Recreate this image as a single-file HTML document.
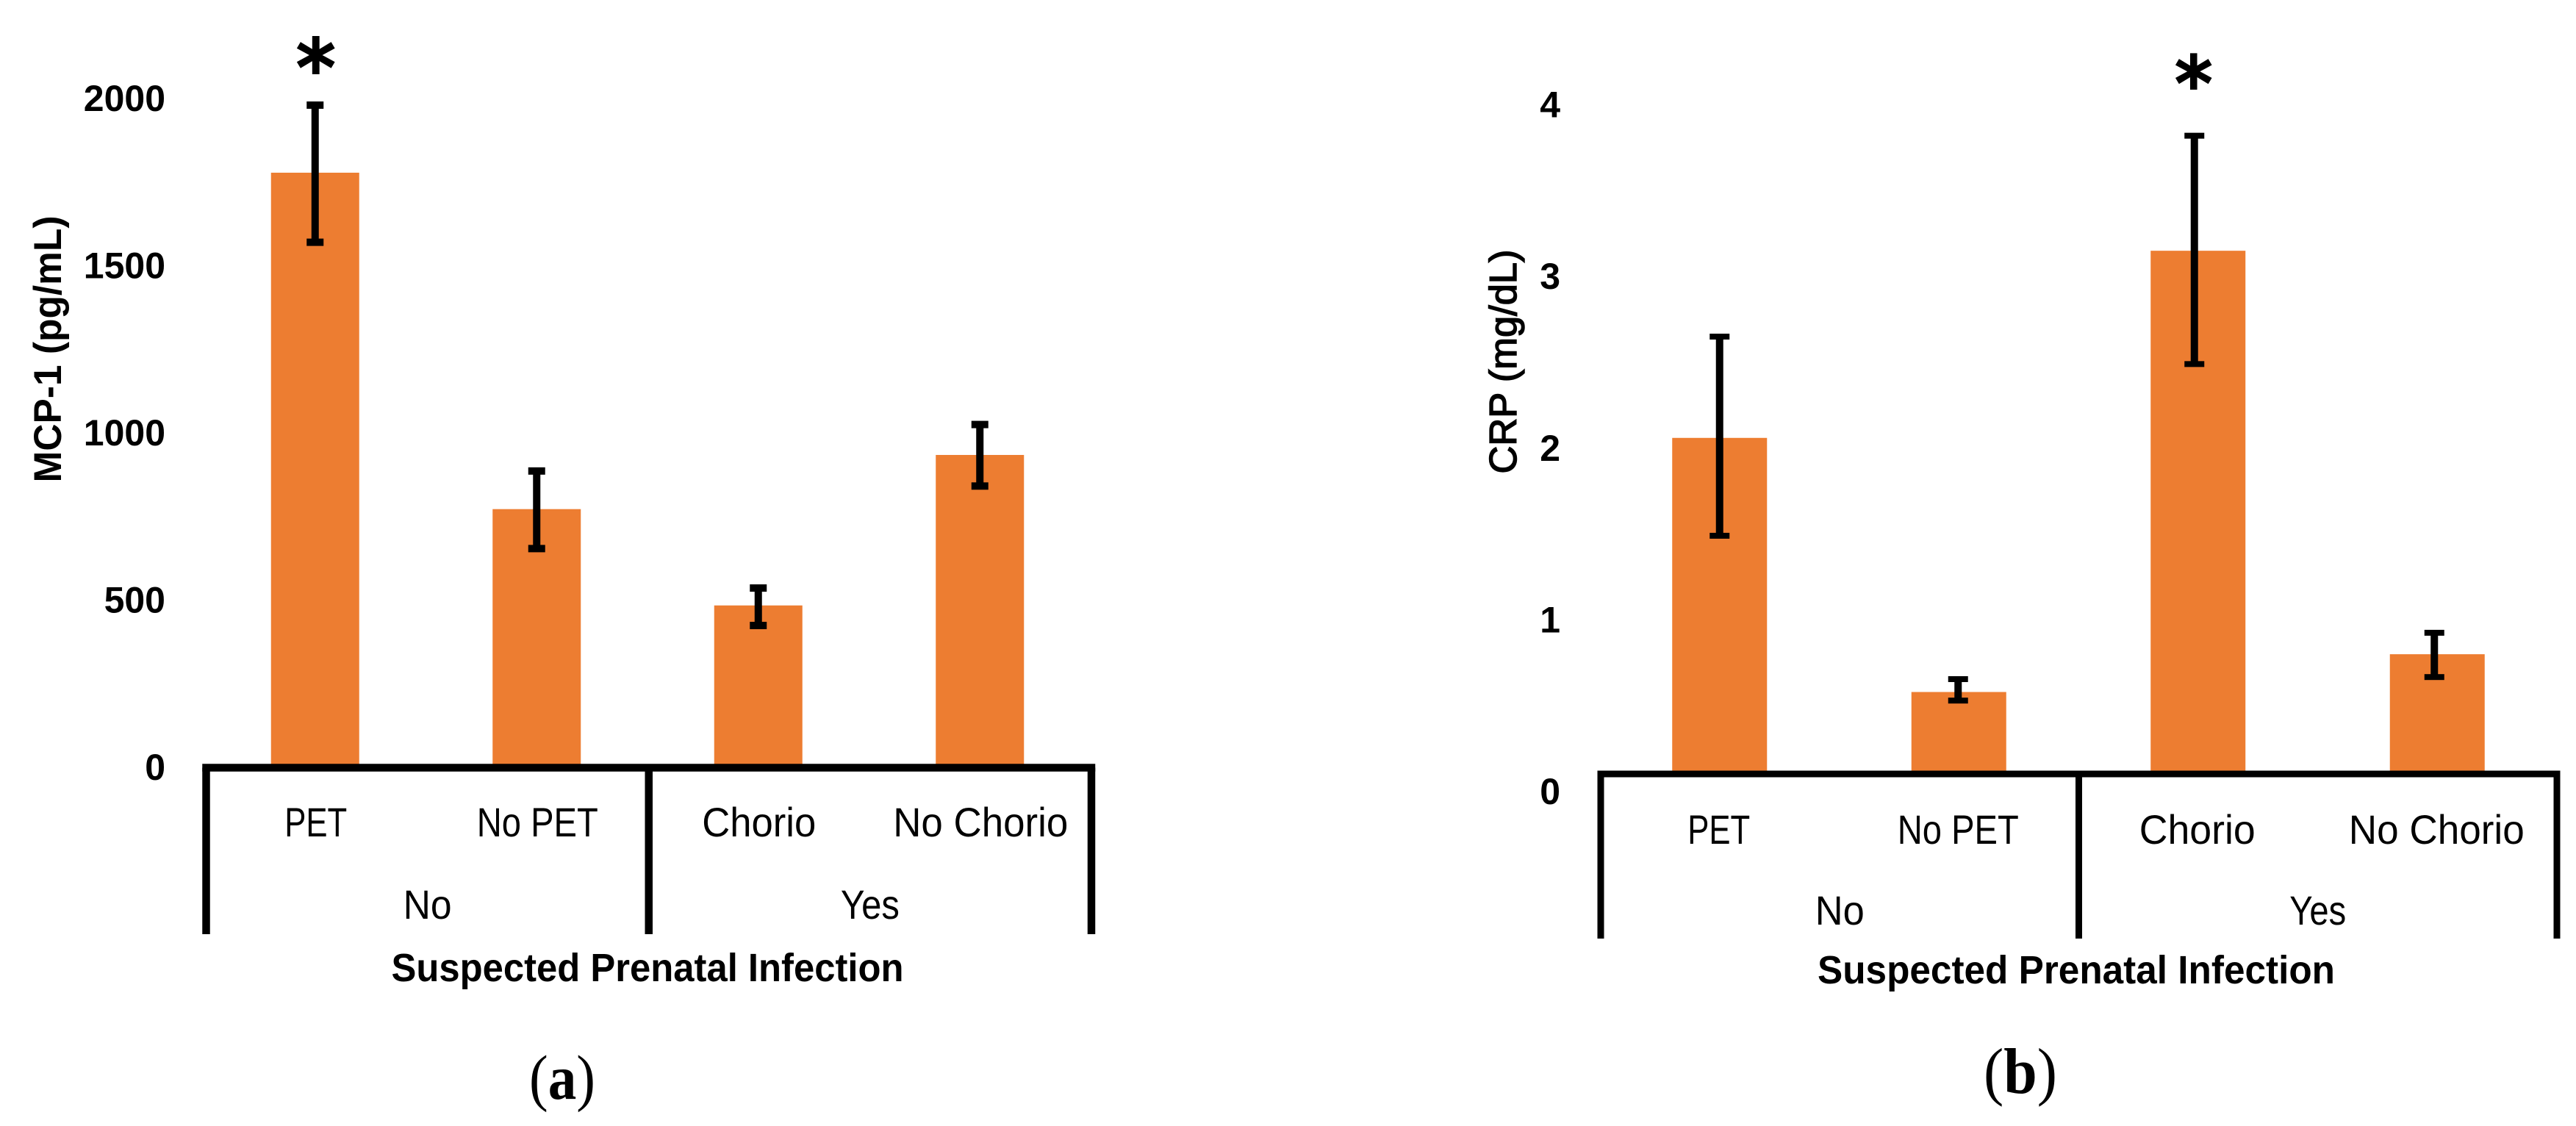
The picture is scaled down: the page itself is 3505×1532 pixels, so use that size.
<!DOCTYPE html>
<html lang="en">
<head>
<meta charset="utf-8">
<title>MCP-1 and CRP by suspected prenatal infection</title>
<style>
  html, body { margin: 0; padding: 0; background: #fff; }
  svg { display: block; }
  text { font-family: "Liberation Sans", sans-serif; fill: #000; }
</style>
</head>
<body>
<svg id="figure" xmlns="http://www.w3.org/2000/svg" width="3505" height="1532" viewBox="0 0 3505 1532">
  <rect x="0" y="0" width="3505" height="1532" fill="#ffffff"/>
  <g id="panel-a"></g>
  <g id="panel-b"></g>
</svg>
<script>
const categories = ['PET', 'No PET', 'Chorio', 'No Chorio'];
const groups = ['No', 'Yes'];
const xAxisTitle = 'Suspected Prenatal Infection';

const mcpTicks = [0, 500, 1000, 1500, 2000];
const mcpValues = [1777, 771, 483, 933];
const mcpErrHigh = [1979, 885, 535, 1024];
const mcpErrLow = [1569, 653, 423, 840];

const crpTicks = [0, 1, 2, 3, 4];
const crpValues = [2.06, 0.58, 3.15, 0.80];
const crpErrHigh = [2.65, 0.655, 3.82, 0.925];
const crpErrLow = [1.49, 0.53, 2.49, 0.667];

const SVG_NS = 'http://www.w3.org/2000/svg';
const BAR_COLOR = '#ED7D31';

function make(parent, tag, attrs, content) {
  const el = document.createElementNS(SVG_NS, tag);
  Object.keys(attrs).forEach(function (k) { el.setAttribute(k, attrs[k]); });
  if (content !== undefined) el.textContent = content;
  parent.appendChild(el);
  return el;
}

function drawPanel(parent, cfg, ticks, values, errHigh, errLow) {
  const y = function (v) { return cfg.yZero - v * cfg.yScale; };
  const x = function (i) { return cfg.bandStart + (i + 0.5) * cfg.band; };

  ticks.forEach(function (t) {
    const el = make(parent, 'text', {
      x: cfg.tickRight, y: y(t) + cfg.tickDy, 'text-anchor': 'end',
      'font-size': cfg.tickSize, 'font-weight': 'bold'
    }, String(t));
    
    
  });

  values.forEach(function (v, i) {
    const el = make(parent, 'rect', {
      x: x(i) - cfg.barWidth / 2, y: y(v), width: cfg.barWidth,
      height: cfg.axisY - y(v), fill: BAR_COLOR
    });
    
    
  });

  values.forEach(function (v, i) {
    const top = y(errHigh[i]);
    const bottom = y(errLow[i]);
    const cx = x(i) + cfg.whiskerNudge[i];
    const stem = make(parent, 'rect', {
      x: cx - cfg.stemWidth / 2, y: top, width: cfg.stemWidth, height: bottom - top, fill: '#000'
    });
    
    
    const capTop = make(parent, 'rect', {
      x: cx - cfg.capWidth / 2, y: top - cfg.capHeight / 2, width: cfg.capWidth, height: cfg.capHeight, fill: '#000'
    });
    
    
    const capBottom = make(parent, 'rect', {
      x: cx - cfg.capWidth / 2, y: bottom - cfg.capHeight / 2, width: cfg.capWidth, height: cfg.capHeight, fill: '#000'
    });
    
    
  });

  const star = make(parent, 'text', {
    x: x(cfg.starIndex) + cfg.starDx, y: y(errHigh[cfg.starIndex]) - cfg.starLift,
    'text-anchor': 'middle', 'font-size': cfg.starSize,
    stroke: '#000', 'stroke-width': 4,
    style: 'font-family:"DejaVu Sans",sans-serif'
  }, '*');
  
  

  const axis = make(parent, 'rect', {
    x: cfg.axisLeft - cfg.axisWidth / 2, y: cfg.axisY - cfg.axisWidth / 2,
    width: cfg.axisRight - cfg.axisLeft + cfg.axisWidth, height: cfg.axisWidth, fill: '#000'
  });
  
  

  [cfg.axisLeft, (cfg.axisLeft + cfg.axisRight) / 2, cfg.axisRight].forEach(function (px) {
    const el = make(parent, 'rect', {
      x: px - cfg.axisWidth / 2, y: cfg.axisY, width: cfg.axisWidth,
      height: cfg.axisBottom - cfg.axisY, fill: '#000'
    });
    
    
  });

  categories.forEach(function (c, i) {
    const el = make(parent, 'text', {
      x: x(i) + cfg.catDx, y: cfg.catBaseline, 'text-anchor': 'middle', 'font-size': cfg.labelSize,
      textLength: cfg.catFit[i], lengthAdjust: 'spacingAndGlyphs'
    }, c);
    
    
  });

  groups.forEach(function (g, i) {
    const span = (cfg.axisRight - cfg.axisLeft) / 2;
    const el = make(parent, 'text', {
      x: cfg.axisLeft + (i + 0.5) * span, y: cfg.groupBaseline, 'text-anchor': 'middle', 'font-size': cfg.labelSize,
      textLength: cfg.groupFit[i], lengthAdjust: 'spacingAndGlyphs'
    }, g);
    
    
  });

  const xTitle = make(parent, 'text', {
    x: cfg.xTitleX, y: cfg.xTitleBaseline, 'text-anchor': 'middle', 'font-size': cfg.labelSize - 2,
    'font-weight': 'bold', textLength: cfg.xTitleFit, lengthAdjust: 'spacingAndGlyphs'
  }, xAxisTitle);
  
  

  const yTitle = make(parent, 'text', {
    transform: 'translate(' + cfg.yTitleX + ',' + cfg.yTitleY + ') rotate(-90)',
    'text-anchor': 'middle', 'font-size': cfg.yTitleSize, 'font-weight': cfg.yTitleWeight,
    stroke: '#000', 'stroke-width': cfg.yTitleStroke,
    textLength: cfg.yTitleFit, lengthAdjust: 'spacingAndGlyphs'
  }, cfg.yTitle);
  
  

  const caption = make(parent, 'text', {
    x: cfg.captionX, y: cfg.captionBaseline, 'text-anchor': 'middle', 'font-size': cfg.captionSize,
    textLength: cfg.captionFit, lengthAdjust: 'spacingAndGlyphs',
    style: 'font-family:"Liberation Serif",serif'
  });
  
  
  make(caption, 'tspan', {}, '(');
  make(caption, 'tspan', { 'font-weight': 'bold' }, cfg.captionLetter);
  make(caption, 'tspan', {}, ')');
}

drawPanel(document.getElementById('panel-a'), {
  yZero: 1043.5, yScale: 0.455,
  bandStart: 278, band: 301.5, barWidth: 120,
  stemWidth: 10, capWidth: 23, capHeight: 10,
  whiskerNudge: [0, 0, 0, 0],
  axisY: 1044.5, axisLeft: 280.5, axisRight: 1485, axisBottom: 1271, axisWidth: 10.5,
  tickRight: 225, tickDy: 17.5, tickSize: 50,
  starIndex: 0, starDx: 1, starLift: 14, starSize: 105,
  labelSize: 56, catDx: 1, catBaseline: 1138, groupBaseline: 1250,
  catFit: [85, 165, 155, 238], groupFit: [66, 80],
  xTitleX: 881, xTitleBaseline: 1335, xTitleFit: 697,
  yTitle: 'MCP-1 (pg/mL)', yTitleX: 83, yTitleY: 475, yTitleSize: 53, yTitleWeight: 'bold', yTitleStroke: 0, yTitleFit: 363,
  captionX: 765, captionBaseline: 1495, captionSize: 86, captionFit: 90, captionLetter: 'a'
}, mcpTicks, mcpValues, mcpErrHigh, mcpErrLow);

drawPanel(document.getElementById('panel-b'), {
  yZero: 1077, yScale: 233.6,
  bandStart: 2177, band: 325.5, barWidth: 129,
  stemWidth: 10, capWidth: 27, capHeight: 8,
  whiskerNudge: [0, -1, -5, -4],
  axisY: 1053, axisLeft: 2178, axisRight: 3479, axisBottom: 1277, axisWidth: 9,
  tickRight: 2123, tickDy: 17, tickSize: 50,
  starIndex: 2, starDx: -6, starLift: 36, starSize: 100,
  labelSize: 56, catDx: -1, catBaseline: 1148, groupBaseline: 1258,
  catFit: [85, 165, 158, 239], groupFit: [67, 77],
  xTitleX: 2825, xTitleBaseline: 1338, xTitleFit: 704,
  yTitle: 'CRP (mg/dL)', yTitleX: 2063, yTitleY: 492, yTitleSize: 52, yTitleWeight: 'normal', yTitleStroke: 1.5, yTitleFit: 305,
  captionX: 2749, captionBaseline: 1487, captionSize: 88, captionFit: 100, captionLetter: 'b'
}, crpTicks, crpValues, crpErrHigh, crpErrLow);
</script>
</body>
</html>
